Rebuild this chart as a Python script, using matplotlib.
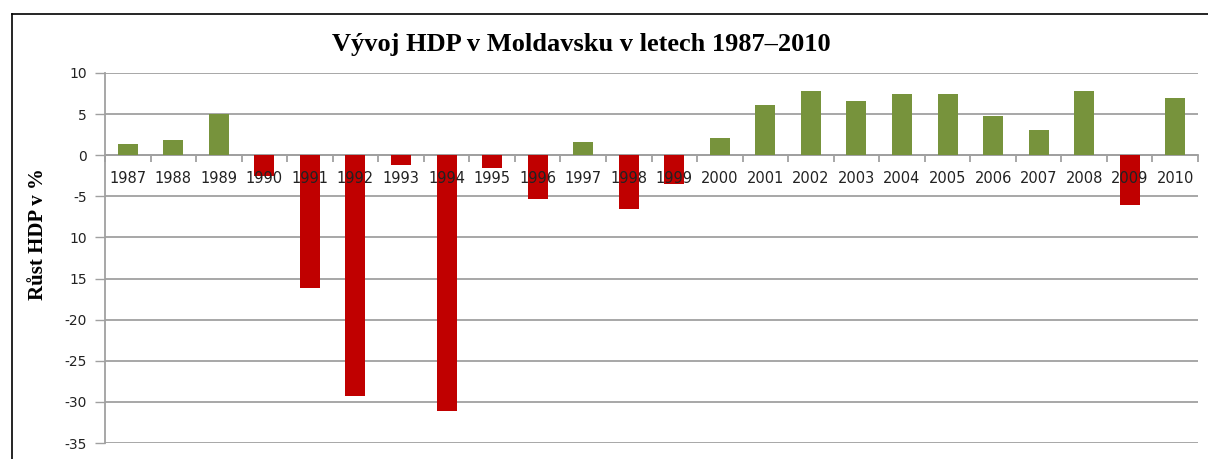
"""Bar chart: GDP growth in Moldova 1987-2010."""
import matplotlib
matplotlib.use('Agg')
import matplotlib.pyplot as plt
from matplotlib.lines import Line2D
from matplotlib.ticker import FixedLocator, FixedFormatter

plt.rcParams['font.family'] = 'DejaVu Sans'

years = [str(y) for y in range(1987, 2011)]
growth = [1.4, 1.9, 5.0, -2.5, -16.1, -29.3, -1.2, -31.1, -1.6, -5.3, 1.6,
          -6.6, -3.5, 2.1, 6.1, 7.8, 6.6, 7.4, 7.5, 4.8, 3.1, 7.8, -6.0, 6.9]
y_ticks = [10, 5, 0, -5, -10, -15, -20, -25, -30, -35]
y_tick_labels = ['10', '5', '0', '-5', '10', '15', '-20', '-25', '-30', '-35']

GREEN = '#77933C'
RED = '#C00000'
GRID = '#A0A0A0'

W, H = 1208, 459
fig = plt.figure(figsize=(W / 100, H / 100), dpi=100)
ax = fig.add_axes([105 / W, 1 - 443 / H, (1198 - 105) / W, (443 - 73) / H])

x = list(range(len(years)))
colors = [GREEN if v >= 0 else RED for v in growth]
ax.bar(x, growth, width=0.44, color=colors, zorder=3)

ax.set_xlim(-0.5, len(years) - 0.5)
ax.set_ylim(-35, 10)

# y axis
ax.yaxis.set_major_locator(FixedLocator(y_ticks))
ax.yaxis.set_major_formatter(FixedFormatter(y_tick_labels))
ax.tick_params(axis='y', direction='out', length=7, width=1, color=GRID,
               labelsize=10, labelcolor='#222222', pad=6)
ax.yaxis.grid(True, color=GRID, linewidth=1.3, zorder=0)
ax.set_axisbelow(True)

# x axis sits on zero, ticks between categories
ax.spines['bottom'].set_position(('data', 0))
ax.spines['bottom'].set_color(GRID)
ax.spines['bottom'].set_linewidth(1.3)
ax.spines['left'].set_color(GRID)
ax.spines['left'].set_linewidth(1.3)
ax.spines['top'].set_visible(False)
ax.spines['right'].set_visible(False)
ax.xaxis.set_major_locator(FixedLocator([i - 0.5 for i in range(len(years) + 1)]))
ax.xaxis.set_major_formatter(FixedFormatter([''] * (len(years) + 1)))
ax.tick_params(axis='x', which='major', direction='out', length=5, width=1.3,
               color=GRID)

# year labels drawn over the bars
for xi, yr in zip(x, years):
    ax.annotate(yr, xy=(xi, 0), xytext=(0, -17), textcoords='offset points',
                ha='center', va='center', fontsize=10.5, color='#222222',
                zorder=5, annotation_clip=False)

fig.text(581 / W, 1 - 45 / H, 'Vývoj HDP v Moldavsku v letech 1987–2010',
         ha='center', va='center', fontsize=19, fontweight='bold',
         family='Liberation Serif')
fig.text(38 / W, 1 - 234 / H, 'Růst HDP v %', ha='center', va='center',
         rotation=90, fontsize=15, fontweight='bold', family='Liberation Serif')

# outer frame (top and left edges visible)
fig.add_artist(Line2D([12 / W, 12 / W], [0, 1 - 14 / H], color='black',
                      linewidth=1.2, transform=fig.transFigure))
fig.add_artist(Line2D([12 / W, 1], [1 - 14 / H, 1 - 14 / H], color='black',
                      linewidth=1.2, transform=fig.transFigure))

fig.savefig('out.png', dpi=100)
